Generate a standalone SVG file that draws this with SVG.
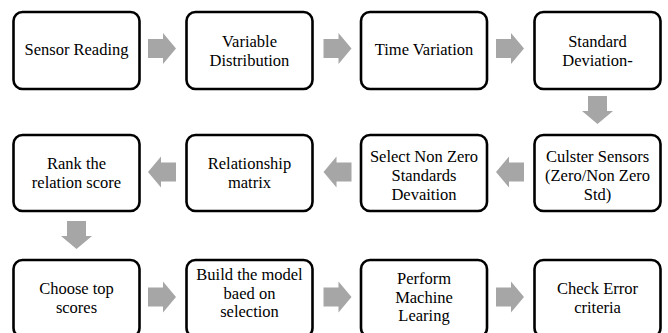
<svg xmlns="http://www.w3.org/2000/svg" width="668" height="333" viewBox="0 0 668 333">
<style>
.box{fill:#fff;stroke:#000;stroke-width:2.6}
.t{font-family:"Times New Roman",Times,"Liberation Serif","DejaVu Serif",serif;font-size:16.5px;fill:#000;text-anchor:middle}
.arr{fill:#a6a6a6}
</style>
<defs>
<path id="ar" d="M-14,-9.5 H1 V-15.5 L14,0 L1,15.5 V9.5 H-14 Z"/>
</defs>
<rect width="668" height="333" fill="#fff"/>
<g id="connectors" class="arr">
<use href="#ar" transform="translate(162,48.5)"/>
<use href="#ar" transform="translate(337.5,48.5)"/>
<use href="#ar" transform="translate(510,48.5)"/>
<use href="#ar" transform="translate(597.5,110) rotate(90)"/>
<use href="#ar" transform="translate(510,172) rotate(180)"/>
<use href="#ar" transform="translate(337.5,172) rotate(180)"/>
<use href="#ar" transform="translate(162,172) rotate(180)"/>
<use href="#ar" transform="translate(76.5,235) rotate(90)"/>
<use href="#ar" transform="translate(162,297)"/>
<use href="#ar" transform="translate(337.5,297)"/>
<use href="#ar" transform="translate(510,297)"/>
</g>
<g id="n1"><rect class="box" x="13.5" y="12" width="126" height="77" rx="9"/><text class="t" x="76.5" y="55">Sensor Reading</text></g>
<g id="n2"><rect class="box" x="186.5" y="12" width="126" height="77" rx="9"/><text class="t" x="249.5" y="47">Variable</text><text class="t" x="249.5" y="65.5">Distribution</text></g>
<g id="n3"><rect class="box" x="361" y="12" width="126" height="77" rx="9"/><text class="t" x="424" y="55">Time Variation</text></g>
<g id="n4"><rect class="box" x="534.5" y="12" width="126" height="77" rx="9"/><text class="t" x="597.5" y="47">Standard</text><text class="t" x="597.5" y="65.5">Deviation-</text></g>
<g id="n5"><rect class="box" x="534.5" y="135" width="126" height="76" rx="9"/><text class="t" x="597.5" y="162">Culster Sensors</text><text class="t" x="597.5" y="181">(Zero/Non Zero</text><text class="t" x="597.5" y="200">Std)</text></g>
<g id="n6"><rect class="box" x="361" y="135" width="126" height="76" rx="9"/><text class="t" x="424" y="162">Select Non Zero</text><text class="t" x="424" y="181">Standards</text><text class="t" x="424" y="200">Devaition</text></g>
<g id="n7"><rect class="box" x="186.5" y="135" width="126" height="76" rx="9"/><text class="t" x="249.5" y="169">Relationship</text><text class="t" x="249.5" y="187.5">matrix</text></g>
<g id="n8"><rect class="box" x="13.5" y="135" width="126" height="76" rx="9"/><text class="t" x="76.5" y="169">Rank the</text><text class="t" x="76.5" y="187.5">relation score</text></g>
<g id="n9"><rect class="box" x="13.5" y="260" width="126" height="77" rx="9"/><text class="t" x="76.5" y="294">Choose top</text><text class="t" x="76.5" y="312.5">scores</text></g>
<g id="n10"><rect class="box" x="186.5" y="260" width="126" height="77" rx="9"/><text class="t" x="249.5" y="280">Build the model</text><text class="t" x="249.5" y="298.5">baed on</text><text class="t" x="249.5" y="317">selection</text></g>
<g id="n11"><rect class="box" x="361" y="260" width="126" height="77" rx="9"/><text class="t" x="424" y="284">Perform</text><text class="t" x="424" y="302.5">Machine</text><text class="t" x="424" y="321">Learing</text></g>
<g id="n12"><rect class="box" x="534.5" y="260" width="126" height="77" rx="9"/><text class="t" x="597.5" y="294">Check Error</text><text class="t" x="597.5" y="312.5">criteria</text></g>
</svg>
